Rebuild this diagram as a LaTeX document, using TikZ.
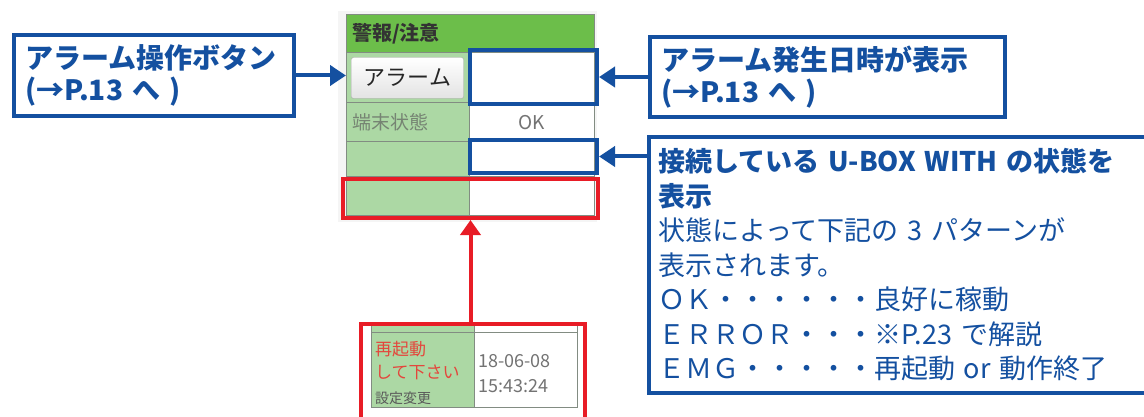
\documentclass[tikz,border=0pt]{standalone}
\usepackage{fontspec}
\setmainfont{Noto Sans CJK JP}
\usetikzlibrary{arrows.meta, positioning}
\definecolor{noteblue}{RGB}{20,80,160}
\definecolor{markred}{RGB}{232,28,38}
\definecolor{headgreen}{RGB}{108,190,74}
\definecolor{cellgreen}{RGB}{172,216,164}
\definecolor{cellline}{RGB}{130,140,130}
\definecolor{msgred}{RGB}{228,70,60}
\definecolor{labelgray}{RGB}{118,132,115}

\begin{document}
\begin{tikzpicture}[
    x=1pt, y=-1pt,
    note/.style={draw=noteblue, line width=4pt, fill=white, text=noteblue, align=left, inner xsep=9pt, inner ysep=0pt, font=\fontsize{28}{32}\selectfont\bfseries},
    cell/.style={draw=cellline, line width=1pt, anchor=north west, inner sep=0pt, outer sep=0pt},
    greencell/.style={cell, fill=cellgreen},
    whitecell/.style={cell, fill=white},
    alarmbtn/.style={draw=gray!70, rounded corners=2pt, top color=white, bottom color=gray!22, minimum width=112pt, minimum height=41pt, inner sep=0pt, text=black!85, font=\fontsize{22}{24}\selectfont},
    screen/.style={inner sep=0pt, font=\fontsize{19}{22}\selectfont},
    bluemark/.style={draw=noteblue, line width=4pt, inner sep=0pt},
    redmark/.style={draw=markred, line width=4pt, inner sep=0pt},
    bluearrow/.style={draw=noteblue, line width=4pt, -{Triangle[length=16pt, width=20pt]}},
    redarrow/.style={draw=markred, line width=4pt, -{Triangle[length=15pt, width=20pt]}}
]
    \useasboundingbox (0,0) rectangle (1144,417);
    \fill[black!4] (338,11) rectangle (597,222);

    % screen panel
    \node[cell, fill=headgreen, minimum width=248pt, minimum height=38pt] (head) at (346,15) {};
    \node[screen, text=black!80, font=\fontsize{20}{22}\selectfont\bfseries, right=6pt of head.west] (headtxt) {警報/注意};
    \node[greencell, minimum width=123pt, minimum height=50pt] (btncell) at (346,53) {};
    \node[whitecell, minimum width=125pt, minimum height=50pt] (datecell) at (469,53) {};
    \node[greencell, minimum width=123pt, minimum height=39pt] (statelbl) at (346,103) {};
    \node[whitecell, minimum width=125pt, minimum height=39pt] (stateval) at (469,103) {};
    \node[greencell, minimum width=123pt, minimum height=35pt] (linkcell) at (346,142) {};
    \node[whitecell, minimum width=125pt, minimum height=35pt] (linkval) at (469,142) {};
    \node[greencell, minimum width=123pt, minimum height=38pt] (msgcell) at (346,177) {};
    \node[whitecell, minimum width=125pt, minimum height=38pt] (msgval) at (469,177) {};

    \node[alarmbtn] (alarmbtn) at (btncell.center) {アラーム};
    \node[screen, text=labelgray, right=6pt of statelbl.west] (statetxt) {端末状態};
    \node[screen, text=black!55] (oktxt) at (stateval.center) {OK};

    \node[bluemark, minimum width=127pt, minimum height=54pt] (datemark) at (533.5,77) {};
    \node[bluemark, minimum width=127pt, minimum height=33pt] (linkmark) at (533.5,156.5) {};
    \node[redmark, minimum width=255pt, minimum height=39pt] (msgmark) at (470.5,198.5) {};

    % callouts
    \node[note, inner xsep=11pt, text width=258pt, minimum height=81pt] (btnnote) at (154,75.5) {アラーム操作ボタン\\(→P.13 へ )};
    \node[note, inner xsep=11pt, text width=333pt, minimum height=80pt] (datenote) at (827.5,77) {アラーム発生日時が表示\\(→P.13 へ )};
    \node[note, text width=483pt, minimum height=256pt, font=\fontsize{27}{34.5}\selectfont] (linknote) at (899.5,265) {\textbf{接続している U-BOX WITH の状態を}\\\textbf{表示}\\状態によって下記の 3 パターンが\\表示されます。\\ＯＫ・・・・・・良好に稼動\\ＥＲＲＯＲ・・・※P.23 で解説\\ＥＭＧ・・・・・再起動 or 動作終了};

    \draw[bluearrow] (btnnote.east) -- (btnnote.east -| btncell.west);
    \draw[bluearrow] (datenote.west) -- (datenote.west -| datemark.east);
    \draw[bluearrow] (linkmark.east -| linknote.west) -- (linkmark.east);

    % enlarged message cell
    \node[greencell, minimum width=103pt, minimum height=7pt] (upcell) at (371,325) {};
    \node[whitecell, minimum width=103pt, minimum height=7pt] (upval) at (474,325) {};
    \node[greencell, minimum width=103pt, minimum height=75pt] (restartcell) at (371,332) {};
    \node[whitecell, minimum width=103pt, minimum height=75pt] (timecell) at (474,332) {};
    \node[screen, anchor=base west, text=msgred, font=\fontsize{17}{20}\selectfont] (restart1) at (375,355) {再起動};
    \node[screen, anchor=base west, text=msgred, font=\fontsize{17}{20}\selectfont] (restart2) at (375,378) {して下さい};
    \node[screen, anchor=base west, text=black!65, font=\fontsize{14}{16}\selectfont] (settxt) at (375,403) {設定変更};
    \node[screen, anchor=base west, text=black!55, font=\fontsize{18}{20}\selectfont] (dateval) at (478,367) {18-06-08};
    \node[screen, anchor=base west, text=black!55, font=\fontsize{18}{20}\selectfont] (timeval) at (478,392) {15:43:24};
    \node[redmark, minimum width=224pt, minimum height=116pt] (zoombox) at (473,382) {};

    \draw[redarrow] (zoombox.north -| msgmark.south) -- (msgmark.south);
\end{tikzpicture}
\end{document}
